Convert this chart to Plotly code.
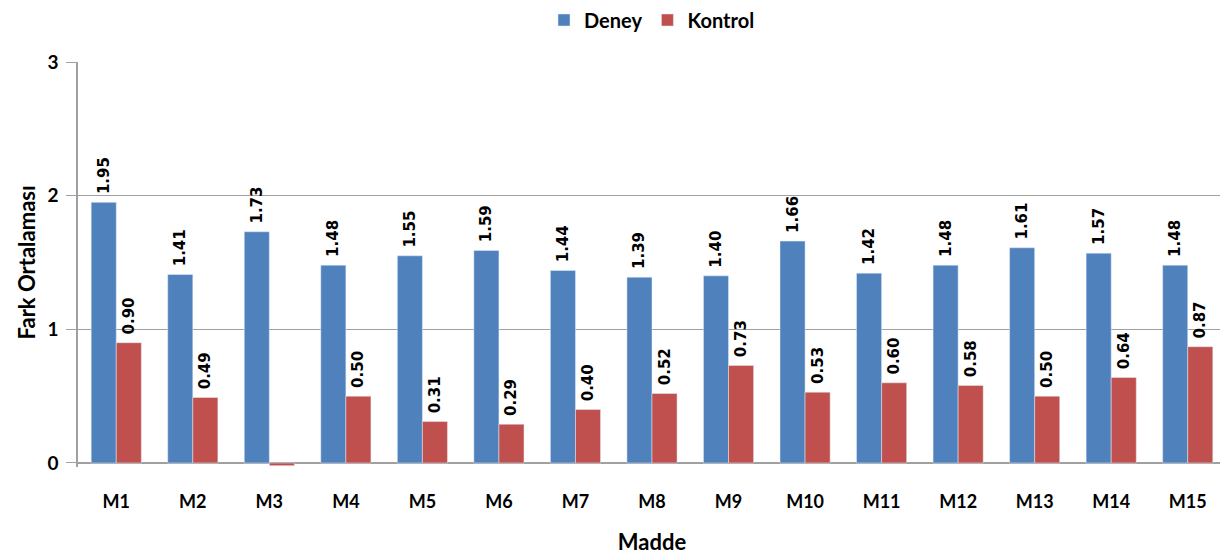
import plotly.graph_objects as go

categories = ["M1", "M2", "M3", "M4", "M5", "M6", "M7", "M8", "M9", "M10", "M11", "M12", "M13", "M14", "M15"]
deney = [1.95, 1.41, 1.73, 1.48, 1.55, 1.59, 1.44, 1.39, 1.40, 1.66, 1.42, 1.48, 1.61, 1.57, 1.48]
kontrol = [0.90, 0.49, -0.02, 0.50, 0.31, 0.29, 0.40, 0.52, 0.73, 0.53, 0.60, 0.58, 0.50, 0.64, 0.87]
kontrol_labels = ["\u00a0" + f"{v:.2f}" if v > 0 else "" for v in kontrol]
deney_labels = ["\u00a0" + f"{v:.2f}" for v in deney]
y_ticks = [0, 1, 2, 3]

label_font = dict(family="DejaVu Sans, sans-serif", size=15, color="black", weight="bold")
main_font = "Lato, Carlito, sans-serif"

fig = go.Figure()
fig.add_trace(go.Bar(name="Deney", x=categories, y=deney, marker_color="#4F81BD",
                     text=deney_labels, textposition="outside", textangle=-90,
                     constraintext="none",
                     textfont=label_font, cliponaxis=False))
fig.add_trace(go.Bar(name="Kontrol", x=categories, y=kontrol, marker_color="#C0504D",
                     text=kontrol_labels, textposition="outside", textangle=-90,
                     constraintext="none",
                     textfont=label_font, cliponaxis=False))

# page body has an 8px margin: figure drawn 8px right/down
fig.update_layout(
    width=1220, height=548,
    margin=dict(l=70, r=2, t=54, b=89, autoexpand=False),
    barmode="group", bargap=0.345, bargroupgap=0,
    plot_bgcolor="white", paper_bgcolor="white",
    font=dict(family=main_font, color="black"),
    legend=dict(orientation="h", x=0.5, xanchor="center", y=1.1037, yanchor="middle",
                font=dict(size=20, family=main_font, weight="bold"),
                itemwidth=30),
    xaxis=dict(
        title=dict(text="Madde", font=dict(size=22, weight="bold"), standoff=23),
        tickfont=dict(size=18, weight="bold"),
        showline=False,
        showgrid=False, ticks="", ticklabelstandoff=22,
    ),
    yaxis=dict(
        tickfont=dict(size=19, weight="bold"),
        range=[-0.03, 3], tickvals=y_ticks,
        showline=True, linecolor="#A0A0A0", linewidth=1.5,
        showgrid=True, gridcolor="#A0A0A0", gridwidth=1.2,
        ticks="outside", ticklen=10, tickcolor="#A0A0A0", ticklabelstandoff=4,
        zeroline=True, zerolinecolor="#A0A0A0", zerolinewidth=1.5,
        layer="below traces",
    ),
    annotations=[dict(
        text="Fark Ortalaması", textangle=-90, showarrow=False,
        xref="paper", yref="paper", x=0, y=0.5, xanchor="center", yanchor="middle",
        xshift=-52, yshift=2, font=dict(size=22, family=main_font, weight="bold"),
    )],
)

fig.write_html("out.html")
